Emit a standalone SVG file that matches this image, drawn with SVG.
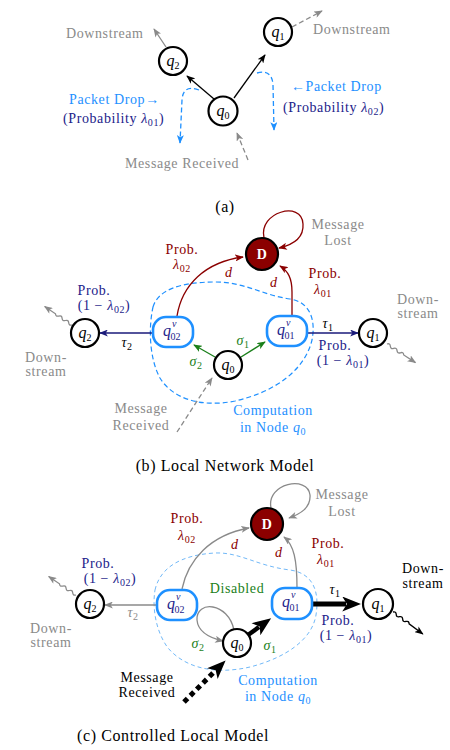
<svg xmlns="http://www.w3.org/2000/svg" width="450" height="750" viewBox="0 0 450 750" font-family="'Liberation Serif', 'Times New Roman', serif">
<defs>
<style>
text{font-family:"Liberation Serif","Times New Roman",serif;font-size:14px;letter-spacing:0.6px}
.c{text-anchor:middle}
.it{font-style:italic}
.gray{fill:#8a8a8a}
.blue{fill:#1e90ff}
.navy{fill:#22228a}
.red{fill:#8b0000}
.green{fill:#1a7f1a}
.cap{font-size:16px}
.node circle{fill:#fff;stroke:#000;stroke-width:2.2}
.nl{font-size:16px;text-anchor:middle;letter-spacing:0}
.qv rect{fill:#fff;stroke:#1e90ff;stroke-width:2.6}
.qv text{fill:#22228a;letter-spacing:0;font-size:16px}
.dnode circle{fill:#8b0000;stroke:#000;stroke-width:2.2}
.ln{fill:none;stroke-width:1.3}
</style>
<marker id="mk" viewBox="0 0 10 8" refX="9" refY="4" markerWidth="9" markerHeight="7" markerUnits="userSpaceOnUse" orient="auto"><path d="M0,0 L10,4 L0,8 L2.5,4 Z" fill="#000"/></marker>
<marker id="mg" viewBox="0 0 10 8" refX="9" refY="4" markerWidth="9" markerHeight="7" markerUnits="userSpaceOnUse" orient="auto"><path d="M0,0 L10,4 L0,8 L2.5,4 Z" fill="#8a8a8a"/></marker>
<marker id="mb" viewBox="0 0 10 8" refX="9" refY="4" markerWidth="9" markerHeight="7" markerUnits="userSpaceOnUse" orient="auto"><path d="M0,0 L10,4 L0,8 L2.5,4 Z" fill="#1e90ff"/></marker>
<marker id="mn" viewBox="0 0 10 8" refX="9" refY="4" markerWidth="9" markerHeight="7" markerUnits="userSpaceOnUse" orient="auto"><path d="M0,0 L10,4 L0,8 L2.5,4 Z" fill="#1a1a7a"/></marker>
<marker id="mr" viewBox="0 0 10 8" refX="9" refY="4" markerWidth="9" markerHeight="7" markerUnits="userSpaceOnUse" orient="auto"><path d="M0,0 L10,4 L0,8 L2.5,4 Z" fill="#8b0000"/></marker>
<marker id="mgr" viewBox="0 0 10 8" refX="9" refY="4" markerWidth="9" markerHeight="7" markerUnits="userSpaceOnUse" orient="auto"><path d="M0,0 L10,4 L0,8 L2.5,4 Z" fill="#1a7f1a"/></marker>
<marker id="mbig" viewBox="0 0 10 8" refX="2" refY="4" markerWidth="20" markerHeight="15" markerUnits="userSpaceOnUse" orient="auto"><path d="M0,0 L10,4 L0,8 L2.5,4 Z" fill="#000"/></marker>
</defs>

<!-- ================= (a) ================= -->
<g id="connectors-a">
<path class="ln" d="M214,99 L187,76" stroke="#000" marker-end="url(#mk)"/>
<path class="ln" d="M234,98 L265,55" stroke="#000" marker-end="url(#mk)"/>
<path class="ln" d="M166,47 L154,29" stroke="#8a8a8a" marker-end="url(#mg)"/>
<path class="ln" d="M292,27 L322,11" stroke="#8a8a8a" stroke-dasharray="5 3" marker-end="url(#mg)"/>
<path class="ln" d="M248,160 L237,133" stroke="#8a8a8a" stroke-dasharray="5 3" marker-end="url(#mg)"/>
<path class="ln" d="M199,90 Q183,84 182,100 L180,143" stroke="#1e90ff" stroke-dasharray="5 3" marker-end="url(#mb)"/>
<path class="ln" d="M257,73 Q272,69 273,85 L274,130" stroke="#1e90ff" stroke-dasharray="5 3" marker-end="url(#mb)"/>
</g>
<g id="a-q0" class="node"><circle cx="223" cy="111" r="14.5"/><text class="nl" x="223" y="116"><tspan class="it">q</tspan><tspan font-size="10" dy="3">0</tspan></text></g>
<g id="a-q2" class="node"><circle cx="173" cy="61" r="14"/><text class="nl" x="173" y="66"><tspan class="it">q</tspan><tspan font-size="10" dy="3">2</tspan></text></g>
<g id="a-q1" class="node"><circle cx="278" cy="32" r="14"/><text class="nl" x="278" y="37"><tspan class="it">q</tspan><tspan font-size="10" dy="3">1</tspan></text></g>
<g id="a-labels">
<text class="gray" x="66" y="38">Downstream</text>
<text class="gray" x="313" y="34">Downstream</text>
<text class="blue" x="69" y="104">Packet Drop→</text>
<text class="navy" x="63" y="123">(Probability <tspan class="it">λ</tspan><tspan font-size="10" dy="3">01</tspan><tspan dy="-3">)</tspan></text>
<text class="blue" x="291" y="91">←Packet Drop</text>
<text class="navy" x="283" y="112">(Probability <tspan class="it">λ</tspan><tspan font-size="10" dy="3">02</tspan><tspan dy="-3">)</tspan></text>
<text class="gray" x="125" y="168">Message Received</text>
<text class="cap c" x="225" y="212">(a)</text>
</g>

<!-- ================= (b) ================= -->
<g id="connectors-b">
<path d="M153,307 C158,290 180,282 215,282 C245,282 262,295 290,299 C310,302 316,320 312,340 C305,370 275,392 235,401 C200,408 172,398 160,378 C150,360 148,330 153,307 Z" fill="none" stroke="#1e90ff" stroke-width="1.2" stroke-dasharray="5 3"/>
<path class="ln" d="M264,238 C258,212 302,200 303,224 C304,238 292,245 279,248" stroke="#8b0000" marker-end="url(#mr)"/>
<path class="ln" d="M177,316 C182,285 205,262 243,257" stroke="#8b0000" marker-end="url(#mr)"/>
<path class="ln" d="M292,316 L292,292 C292,278 288,271 280,266" stroke="#8b0000" marker-end="url(#mr)"/>
<path class="ln" d="M152,333 L100,333" stroke="#1a1a7a" marker-end="url(#mn)"/>
<path class="ln" d="M308,333 L358,333" stroke="#1a1a7a" marker-end="url(#mn)"/>
<path class="ln" d="M241,357 L265,342" stroke="#1a7f1a" marker-end="url(#mgr)"/>
<path class="ln" d="M215,357 L194,345" stroke="#1a7f1a" marker-end="url(#mgr)"/>
<path class="ln" d="M177,432 L212,378" stroke="#8a8a8a" stroke-dasharray="5 3" marker-end="url(#mg)"/>
<path class="ln" transform="translate(72,325) rotate(-145.8)" d="M0,0 q2,-2.5 4,0 t4,0 t4,0 t4,0 t4,0 l13,0" stroke="#8a8a8a" stroke-width="1" marker-end="url(#mg)"/>
<path class="ln" transform="translate(387,344) rotate(33.2)" d="M0,0 q2,-2.5 4,0 t4,0 t4,0 t4,0 t4,0 l14,0" stroke="#8a8a8a" stroke-width="1" marker-end="url(#mg)"/>
</g>
<g id="b-D" class="dnode"><circle cx="262" cy="254" r="16"/><text class="c" x="262" y="259" fill="#fff" font-size="13" font-weight="bold">D</text></g>
<g id="b-q02v" class="qv"><rect x="153" y="317" width="40" height="30" rx="13"/><text x="163" y="336"><tspan class="it">q</tspan><tspan class="it" font-size="10" dy="-9" dx="1">v</tspan><tspan font-size="10" dx="-6" dy="13">02</tspan></text></g>
<g id="b-q01v" class="qv"><rect x="267" y="316" width="40" height="30" rx="13"/><text x="277" y="335"><tspan class="it">q</tspan><tspan class="it" font-size="10" dy="-9" dx="1">v</tspan><tspan font-size="10" dx="-6" dy="13">01</tspan></text></g>
<g id="b-q0" class="node"><circle cx="228" cy="365" r="14"/><text class="nl" x="228" y="370"><tspan class="it">q</tspan><tspan font-size="10" dy="3">0</tspan></text></g>
<g id="b-q2" class="node"><circle cx="85" cy="333" r="14"/><text class="nl" x="85" y="338"><tspan class="it">q</tspan><tspan font-size="10" dy="3">2</tspan></text></g>
<g id="b-q1" class="node"><circle cx="373" cy="333" r="14"/><text class="nl" x="373" y="338"><tspan class="it">q</tspan><tspan font-size="10" dy="3">1</tspan></text></g>
<g id="b-labels">
<text class="gray c" x="338" y="229">Message</text>
<text class="gray c" x="338" y="245">Lost</text>
<text class="red c" x="182" y="254">Prob.</text>
<text class="red c" x="182" y="269"><tspan class="it">λ</tspan><tspan font-size="10" dy="3">02</tspan></text>
<text class="red it" x="225" y="277">d</text>
<text class="red it" x="270" y="287">d</text>
<text class="red c" x="325" y="278">Prob.</text>
<text class="red c" x="323" y="294"><tspan class="it">λ</tspan><tspan font-size="10" dy="3">01</tspan></text>
<text class="navy c" x="94" y="295">Prob.</text>
<text class="navy c" x="104" y="310">(1 − <tspan class="it">λ</tspan><tspan font-size="10" dy="3">02</tspan><tspan dy="-3">)</tspan></text>
<text class="c it" x="127" y="347" font-size="15">τ<tspan font-size="10" dy="3" font-style="normal">2</tspan></text>
<text class="c it" x="328" y="328" font-size="15">τ<tspan font-size="10" dy="3" font-style="normal">1</tspan></text>
<text class="gray c" x="46" y="362">Down-</text>
<text class="gray c" x="46" y="376">stream</text>
<text class="gray c" x="418" y="304">Down-</text>
<text class="gray c" x="418" y="318">stream</text>
<text class="navy c" x="335" y="350">Prob.</text>
<text class="navy c" x="343" y="365">(1 − <tspan class="it">λ</tspan><tspan font-size="10" dy="3">01</tspan><tspan dy="-3">)</tspan></text>
<text class="green c it" x="243" y="345" font-size="15">σ<tspan font-size="10" dy="3" font-style="normal">1</tspan></text>
<text class="green c it" x="196" y="366" font-size="15">σ<tspan font-size="10" dy="3" font-style="normal">2</tspan></text>
<text class="gray c" x="141" y="413">Message</text>
<text class="gray c" x="141" y="430">Received</text>
<text class="blue c" x="273" y="415">Computation</text>
<text class="blue c" x="273" y="432">in Node <tspan class="it">q</tspan><tspan font-size="10" dy="3">0</tspan></text>
<text class="cap c" x="225" y="471">(b)  Local Network Model</text>
</g>

<!-- ================= (c) ================= -->
<g id="connectors-c">
<path d="M155,590 C160,568 180,555 215,553 C240,552 257,566 290,570 C312,573 320,590 316,615 C312,640 285,658 250,667 C215,675 185,668 168,648 C156,632 152,608 155,590 Z" fill="none" stroke="#4da6f5" stroke-width="0.8" stroke-dasharray="4 3"/>
<path class="ln" d="M271,508 C266,483 308,475 310,495 C311,508 300,514 289,518" stroke="#8a8a8a" stroke-width="1" marker-end="url(#mg)"/>
<path class="ln" d="M182,589 C188,560 210,535 249,528" stroke="#8a8a8a" stroke-width="1" marker-end="url(#mg)"/>
<path class="ln" d="M297,588 C297,560 294,545 284,537" stroke="#8a8a8a" stroke-width="1" marker-end="url(#mg)"/>
<path class="ln" d="M234,630 C228,602 196,600 197,620 C198,632 210,638 223,641" stroke="#8a8a8a" stroke-width="1" marker-end="url(#mg)"/>
<path class="ln" d="M157,605 L105,605" stroke="#8a8a8a" stroke-width="1" marker-end="url(#mg)"/>
<path d="M248,635 L259,627" fill="none" stroke="#000" stroke-width="4.5" marker-end="url(#mbig)"/>
<path d="M313,604 L346,604" fill="none" stroke="#000" stroke-width="5" marker-end="url(#mbig)"/>
<path d="M184,702 L215,671" fill="none" stroke="#000" stroke-width="5" stroke-dasharray="5 4" marker-end="url(#mbig)"/>
<path class="ln" transform="translate(76,595) rotate(-145.8)" d="M0,0 q2,-2.5 4,0 t4,0 t4,0 t4,0 t4,0 l13,0" stroke="#8a8a8a" stroke-width="1" marker-end="url(#mg)"/>
<path class="ln" transform="translate(393,612) rotate(36.3)" d="M0,0 q2,-2.5 4,0 t4,0 t4,0 t4,0 t4,0 l17,0" stroke="#000" stroke-width="1.1" marker-end="url(#mk)"/>
</g>
<g id="c-D" class="dnode"><circle cx="267" cy="524" r="16"/><text class="c" x="267" y="529" fill="#fff" font-size="13" font-weight="bold">D</text></g>
<g id="c-q02v" class="qv"><rect x="157" y="590" width="40" height="30" rx="13"/><text x="167" y="609"><tspan class="it">q</tspan><tspan class="it" font-size="10" dy="-9" dx="1">v</tspan><tspan font-size="10" dx="-6" dy="13">02</tspan></text></g>
<g id="c-q01v" class="qv"><rect x="272" y="588" width="40" height="31" rx="13"/><text x="282" y="607"><tspan class="it">q</tspan><tspan class="it" font-size="10" dy="-9" dx="1">v</tspan><tspan font-size="10" dx="-6" dy="13">01</tspan></text></g>
<g id="c-q0" class="node"><circle cx="237" cy="643" r="14"/><text class="nl" x="237" y="648"><tspan class="it">q</tspan><tspan font-size="10" dy="3">0</tspan></text></g>
<g id="c-q2" class="node"><circle cx="90" cy="604" r="14"/><text class="nl" x="90" y="609"><tspan class="it">q</tspan><tspan font-size="10" dy="3">2</tspan></text></g>
<g id="c-q1" class="node"><circle cx="378" cy="604" r="15"/><text class="nl" x="378" y="609"><tspan class="it">q</tspan><tspan font-size="10" dy="3">1</tspan></text></g>
<g id="c-labels">
<text class="gray c" x="342" y="499">Message</text>
<text class="gray c" x="342" y="516">Lost</text>
<text class="red c" x="187" y="523">Prob.</text>
<text class="red c" x="187" y="540"><tspan class="it">λ</tspan><tspan font-size="10" dy="3">02</tspan></text>
<text class="red it" x="231" y="549">d</text>
<text class="red it" x="275" y="557">d</text>
<text class="red c" x="328" y="548">Prob.</text>
<text class="red c" x="326" y="564"><tspan class="it">λ</tspan><tspan font-size="10" dy="3">01</tspan></text>
<text class="green c" x="237" y="593">Disabled</text>
<text class="navy c" x="98" y="568">Prob.</text>
<text class="navy c" x="110" y="583">(1 − <tspan class="it">λ</tspan><tspan font-size="10" dy="3">02</tspan><tspan dy="-3">)</tspan></text>
<text class="gray c it" x="133" y="617" font-size="15">τ<tspan font-size="10" dy="3" font-style="normal">2</tspan></text>
<text class="c it" x="335" y="594" font-size="15">τ<tspan font-size="10" dy="3" font-style="normal">1</tspan></text>
<text class="gray c" x="51" y="633">Down-</text>
<text class="gray c" x="51" y="647">stream</text>
<text class="c" x="423" y="573">Down-</text>
<text class="c" x="423" y="588">stream</text>
<text class="navy c" x="338" y="625">Prob.</text>
<text class="navy c" x="346" y="640">(1 − <tspan class="it">λ</tspan><tspan font-size="10" dy="3">01</tspan><tspan dy="-3">)</tspan></text>
<text class="green c it" x="198" y="648" font-size="15">σ<tspan font-size="10" dy="3" font-style="normal">2</tspan></text>
<text class="green c it" x="270" y="650" font-size="15">σ<tspan font-size="10" dy="3" font-style="normal">1</tspan></text>
<text class="c" x="147" y="682">Message</text>
<text class="c" x="147" y="697">Received</text>
<text class="blue c" x="278" y="685">Computation</text>
<text class="blue c" x="278" y="701">in Node <tspan class="it">q</tspan><tspan font-size="10" dy="3">0</tspan></text>
<text class="cap" x="77" y="741">(c)  Controlled Local Model</text>
</g>
</svg>
